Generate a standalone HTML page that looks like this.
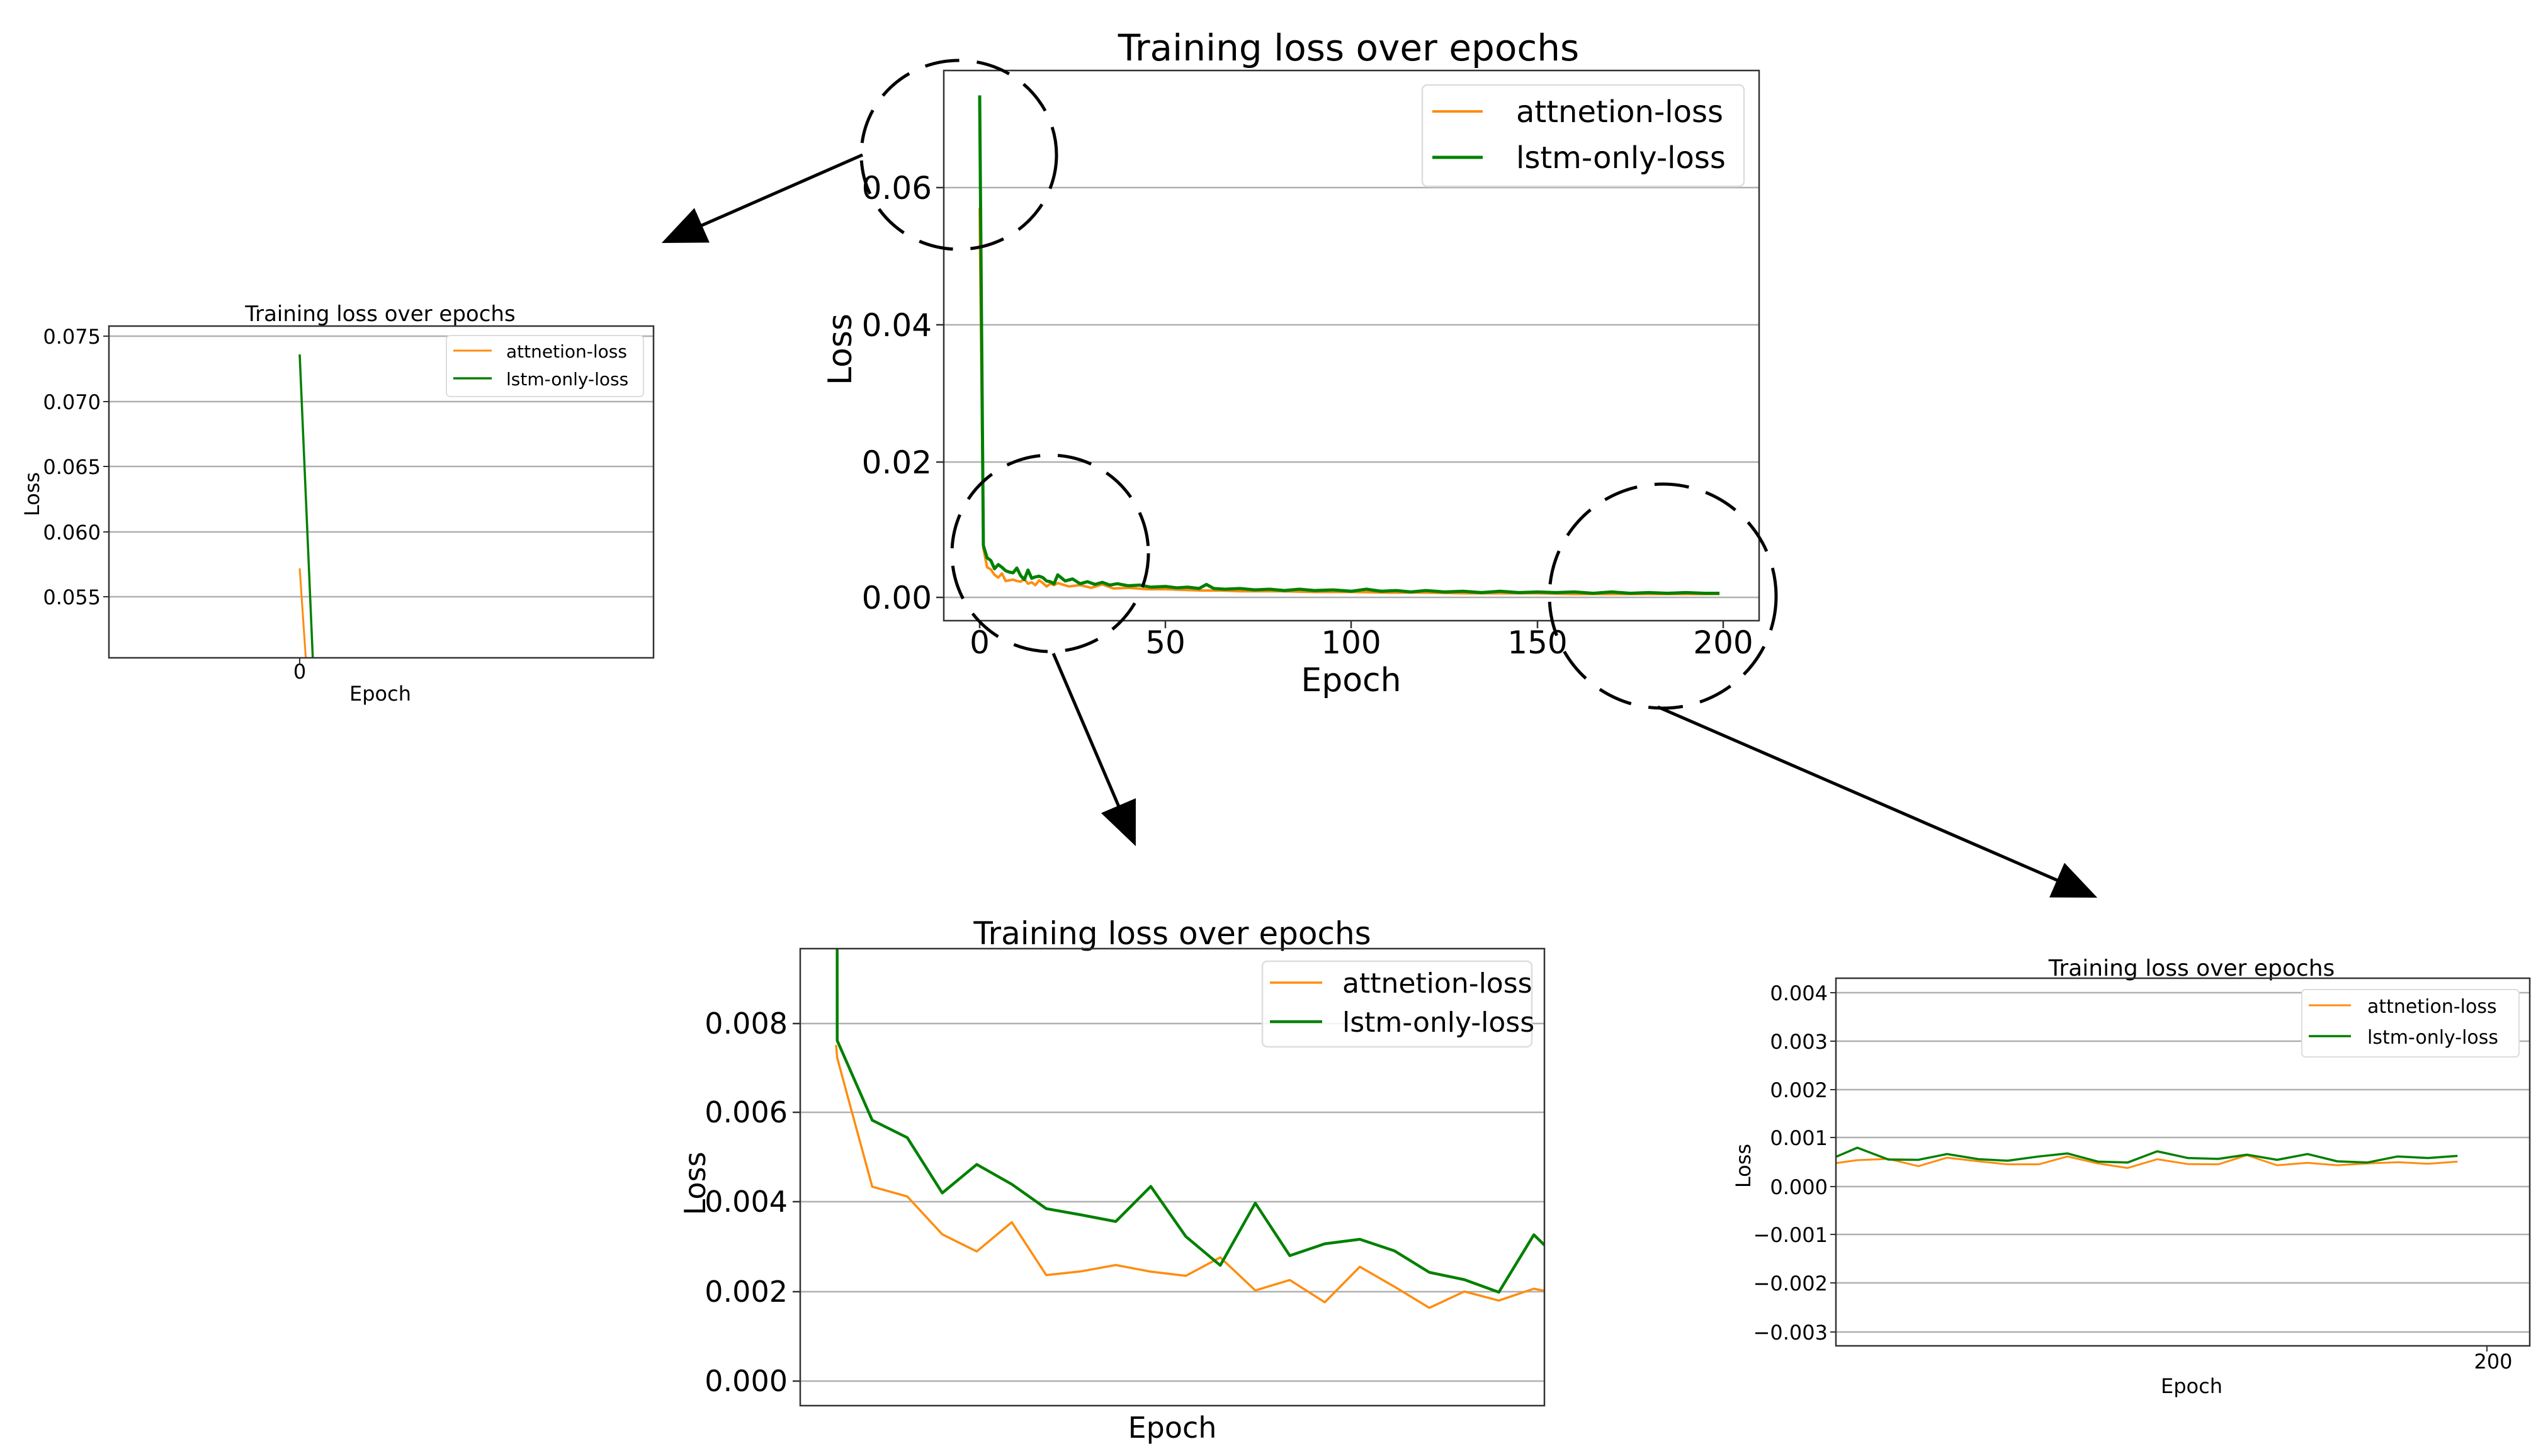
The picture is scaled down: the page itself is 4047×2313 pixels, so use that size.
<!DOCTYPE html>
<html><head><meta charset="utf-8"><style>
html,body{margin:0;padding:0;background:#fff;}
svg{display:block;font-family:"DejaVu Sans","Liberation Sans",sans-serif;}
.g{stroke:#b0b0b0;stroke-width:2.5;}
.ax{fill:none;stroke:#333;stroke-width:2.5;}
.o{fill:none;stroke:#ff8c0f;vector-effect:non-scaling-stroke;stroke-linejoin:round;}
.gr{fill:none;stroke:#008000;vector-effect:non-scaling-stroke;stroke-linejoin:round;}
.c{fill:none;stroke:#000;stroke-width:5;stroke-dasharray:55 28;}
.ar{stroke:#000;stroke-width:5;marker-end:url(#ah);}
</style></head><body>
<svg width="4047" height="2313" viewBox="0 0 4047 2313" xmlns="http://www.w3.org/2000/svg">
<defs>
<marker id="ah" markerWidth="14" markerHeight="12" refX="12" refY="6" orient="auto" markerUnits="strokeWidth"><path d="M0,0 L14,6 L0,12 z" fill="#000"/></marker>
<clipPath id="cm"><rect x="1499" y="112" width="1295" height="874"/></clipPath>
<clipPath id="cl"><rect x="173" y="518" width="865" height="527"/></clipPath>
<clipPath id="cb"><rect x="1271" y="1507" width="1182" height="726"/></clipPath>
<clipPath id="cr"><rect x="2916" y="1554" width="1102" height="584"/></clipPath>
</defs>

<!-- MAIN CHART -->
<text x="2142" y="96" font-size="58" text-anchor="middle">Training  loss over epochs</text>
<g class="g"><line x1="1499" y1="298" x2="2794" y2="298"/><line x1="1499" y1="516" x2="2794" y2="516"/><line x1="1499" y1="734" x2="2794" y2="734"/><line x1="1499" y1="949" x2="2794" y2="949"/></g>
<g clip-path="url(#cm)">
<g transform="translate(1556,949) scale(5.905,-10850)">
<polyline class="o" stroke-width="4" points="0,0.057 1,0.0072 2,0.0044 3,0.0041 4,0.0033 5,0.0029 6,0.0035 7,0.0024 8,0.0025 9,0.0026 10,0.0024 11,0.0023 12,0.0027 13,0.0020 14,0.0022 15,0.0018 16,0.0025 17,0.0021 18,0.0016 19,0.0020 20,0.0018 21,0.0021 24,0.0016 27,0.0018 30,0.0014 33,0.0019 36,0.0013 40,0.0014 45,0.0012 50,0.0012 55,0.0011 60,0.0010 65,0.0010 70,0.0009 80,0.0009 90,0.0008 100,0.0008 110,0.0007 120,0.0007 130,0.0006 140,0.0006 150,0.0006 160,0.0005 170,0.0005 180,0.0005 190,0.0005 199,0.0005"/>
<polyline class="gr" stroke-width="5" points="0,0.0735 1,0.0076 2,0.0058 3,0.0054 4,0.0042 5,0.0048 6,0.0044 7,0.0039 8,0.0037 9,0.0036 10,0.0043 11,0.0032 12,0.0026 13,0.0040 14,0.0028 15,0.0030 16,0.0031 17,0.0029 18,0.0024 19,0.0023 20,0.0020 21,0.0033 23,0.0024 25,0.0027 27,0.0020 29,0.0023 31,0.0019 33,0.0022 35,0.0018 37,0.0020 40,0.0017 43,0.0018 46,0.0015 50,0.0016 53,0.0014 56,0.0015 59,0.0013 61,0.0019 63,0.0013 66,0.0012 70,0.0013 74,0.0011 78,0.0012 82,0.0010 86,0.0012 90,0.0010 95,0.0011 100,0.0009 104,0.0012 108,0.0009 112,0.0010 116,0.0008 120,0.0010 125,0.0008 130,0.0009 135,0.0007 140,0.0009 145,0.0007 150,0.0008 155,0.0007 160,0.0008 165,0.0006 170,0.0008 175,0.0006 180,0.0007 185,0.0006 190,0.0007 195,0.0006 199,0.0006"/>
</g></g>
<rect class="ax" x="1499" y="112" width="1295" height="874"/>
<g stroke="#333" stroke-width="2.5"><line x1="1556" y1="986" x2="1556" y2="998"/><line x1="1851" y1="986" x2="1851" y2="998"/><line x1="2146" y1="986" x2="2146" y2="998"/><line x1="2442" y1="986" x2="2442" y2="998"/><line x1="2737" y1="986" x2="2737" y2="998"/>
<line x1="1487" y1="298" x2="1499" y2="298"/><line x1="1487" y1="516" x2="1499" y2="516"/><line x1="1487" y1="734" x2="1499" y2="734"/><line x1="1487" y1="949" x2="1499" y2="949"/></g>
<g font-size="50" text-anchor="middle"><text x="1556" y="1038">0</text><text x="1851" y="1038">50</text><text x="2146" y="1038">100</text><text x="2442" y="1038">150</text><text x="2737" y="1038">200</text></g>
<g font-size="50" text-anchor="end"><text x="1480" y="316">0.06</text><text x="1480" y="534">0.04</text><text x="1480" y="752">0.02</text><text x="1480" y="967">0.00</text></g>
<text x="2146" y="1098" font-size="52" text-anchor="middle">Epoch</text>
<text transform="translate(1352,555) rotate(-90)" font-size="52" text-anchor="middle">Loss</text>
<rect x="2259" y="135" width="511" height="161" rx="8" fill="#fff" fill-opacity="0.85" stroke="#ddd" stroke-width="2.5"/>
<line x1="2275" y1="177" x2="2355" y2="177" stroke="#ff8c0f" stroke-width="4"/>
<line x1="2275" y1="250" x2="2355" y2="250" stroke="#008000" stroke-width="5"/>
<text x="2408" y="194" font-size="48">attnetion-loss</text>
<text x="2408" y="267" font-size="48">lstm-only-loss</text>

<!-- LEFT SMALL CHART -->
<text x="604" y="510" font-size="34" text-anchor="middle">Training  loss over epochs</text>
<g class="g" stroke-width="2"><line x1="173" y1="534" x2="1038" y2="534"/><line x1="173" y1="638" x2="1038" y2="638"/><line x1="173" y1="741" x2="1038" y2="741"/><line x1="173" y1="845" x2="1038" y2="845"/><line x1="173" y1="948" x2="1038" y2="948"/></g>
<g clip-path="url(#cl)">
<line x1="476" y1="903" x2="486" y2="1050" stroke="#ff8c0f" stroke-width="3"/>
<line x1="476" y1="563" x2="497" y2="1050" stroke="#008000" stroke-width="3.5"/>
</g>
<rect class="ax" x="173" y="518" width="865" height="527" stroke-width="2"/>
<g stroke="#333" stroke-width="2"><line x1="476" y1="1045" x2="476" y2="1054"/><line x1="164" y1="534" x2="173" y2="534"/><line x1="164" y1="638" x2="173" y2="638"/><line x1="164" y1="741" x2="173" y2="741"/><line x1="164" y1="845" x2="173" y2="845"/><line x1="164" y1="948" x2="173" y2="948"/></g>
<g font-size="32" text-anchor="end"><text x="160" y="546">0.075</text><text x="160" y="650">0.070</text><text x="160" y="753">0.065</text><text x="160" y="857">0.060</text><text x="160" y="960">0.055</text></g>
<text x="476" y="1078" font-size="32" text-anchor="middle">0</text>
<text x="604" y="1113" font-size="32" text-anchor="middle">Epoch</text>
<text transform="translate(62,785) rotate(-90)" font-size="32" text-anchor="middle">Loss</text>
<rect x="709" y="533" width="313" height="97" rx="6" fill="#fff" stroke="#ddd" stroke-width="2"/>
<line x1="720" y1="557" x2="781" y2="557" stroke="#ff8c0f" stroke-width="3"/>
<line x1="720" y1="601" x2="781" y2="601" stroke="#008000" stroke-width="3.5"/>
<text x="804" y="568" font-size="28">attnetion-loss</text>
<text x="804" y="612" font-size="28">lstm-only-loss</text>

<!-- BOTTOM MIDDLE CHART -->
<text x="1862" y="1500" font-size="50" text-anchor="middle">Training  loss over epochs</text>
<g class="g"><line x1="1271" y1="1626" x2="2453" y2="1626"/><line x1="1271" y1="1767" x2="2453" y2="1767"/><line x1="1271" y1="1909" x2="2453" y2="1909"/><line x1="1271" y1="2052" x2="2453" y2="2052"/><line x1="1271" y1="2194" x2="2453" y2="2194"/></g>
<g clip-path="url(#cb)"><g transform="translate(1100,1450) scale(0.8974,0.553)">
<polyline class="o" stroke-width="3.5" points="254,380 256,417 318,787 380,815 442,924 503,973 565,889 626,1041 688,1030 749,1012 811,1031 873,1043 934,990 996,1085 1057,1055 1119,1119 1181,1017 1242,1074 1304,1135 1366,1088 1427,1114 1489,1080 1550,1100"/>
<polyline class="gr" stroke-width="4.5" points="250,-30000 256,367 318,596 380,646 442,805 503,723 565,780 626,850 688,868 749,887 811,786 873,930 934,1013 996,834 1057,985 1119,951 1181,938 1242,971 1304,1033 1366,1054 1427,1090 1489,925 1530,990"/>
</g></g>
<rect class="ax" x="1271" y="1507" width="1182" height="726"/>
<g stroke="#333" stroke-width="2.5"><line x1="1259" y1="1626" x2="1271" y2="1626"/><line x1="1259" y1="1767" x2="1271" y2="1767"/><line x1="1259" y1="1909" x2="1271" y2="1909"/><line x1="1259" y1="2052" x2="1271" y2="2052"/><line x1="1259" y1="2194" x2="1271" y2="2194"/></g>
<g font-size="46" text-anchor="end"><text x="1251" y="1642">0.008</text><text x="1251" y="1783">0.006</text><text x="1251" y="1925">0.004</text><text x="1251" y="2068">0.002</text><text x="1251" y="2210">0.000</text></g>
<text x="1862" y="2284" font-size="46" text-anchor="middle">Epoch</text>
<text transform="translate(1120,1880) rotate(-90)" font-size="46" text-anchor="middle">Loss</text>
<rect x="2005" y="1527" width="428" height="136" rx="8" fill="#fff" fill-opacity="0.85" stroke="#ddd" stroke-width="2.5"/>
<line x1="2017" y1="1561" x2="2100" y2="1561" stroke="#ff8c0f" stroke-width="3.5"/>
<line x1="2017" y1="1623" x2="2100" y2="1623" stroke="#008000" stroke-width="4.5"/>
<text x="2132" y="1577" font-size="44">attnetion-loss</text>
<text x="2132" y="1639" font-size="44">lstm-only-loss</text>

<!-- RIGHT CHART -->
<text x="3481" y="1550" font-size="36" text-anchor="middle">Training  loss over epochs</text>
<g class="g" stroke-width="2"><line x1="2916" y1="1577" x2="4018" y2="1577"/><line x1="2916" y1="1654" x2="4018" y2="1654"/><line x1="2916" y1="1731" x2="4018" y2="1731"/><line x1="2916" y1="1807" x2="4018" y2="1807"/><line x1="2916" y1="1885" x2="4018" y2="1885"/><line x1="2916" y1="1961" x2="4018" y2="1961"/><line x1="2916" y1="2038" x2="4018" y2="2038"/><line x1="2916" y1="2116" x2="4018" y2="2116"/></g>
<g clip-path="url(#cr)"><g transform="translate(2900,1500) scale(0.735,0.481)">
<polyline class="o" stroke-width="3" points="22,723 68,713 135,709 200,733 262,705 330,717 393,727 460,727 522,701 588,724 652,739 716,710 782,726 848,727 910,697 975,730 1041,722 1105,730 1170,724 1235,720 1301,725 1365,718"/>
<polyline class="gr" stroke-width="3.5" points="22,702 68,672 135,711 200,712 262,693 330,710 393,715 460,701 522,691 588,718 652,721 716,684 782,706 848,709 910,695 975,712 1041,693 1105,717 1170,721 1235,701 1301,706 1365,699"/>
</g></g>
<rect class="ax" x="2916" y="1554" width="1102" height="584" stroke-width="2"/>
<g stroke="#333" stroke-width="2"><line x1="3950" y1="2138" x2="3950" y2="2147"/>
<line x1="2907" y1="1577" x2="2916" y2="1577"/><line x1="2907" y1="1654" x2="2916" y2="1654"/><line x1="2907" y1="1731" x2="2916" y2="1731"/><line x1="2907" y1="1807" x2="2916" y2="1807"/><line x1="2907" y1="1885" x2="2916" y2="1885"/><line x1="2907" y1="1961" x2="2916" y2="1961"/><line x1="2907" y1="2038" x2="2916" y2="2038"/><line x1="2907" y1="2116" x2="2916" y2="2116"/></g>
<g font-size="32" text-anchor="end"><text x="2903" y="1589">0.004</text><text x="2903" y="1666">0.003</text><text x="2903" y="1743">0.002</text><text x="2903" y="1819">0.001</text><text x="2903" y="1897">0.000</text><text x="2903" y="1973">−0.001</text><text x="2903" y="2050">−0.002</text><text x="2903" y="2128">−0.003</text></g>
<text x="3960" y="2174" font-size="32" text-anchor="middle">200</text>
<text x="3481" y="2213" font-size="32" text-anchor="middle">Epoch</text>
<text transform="translate(2780,1852) rotate(-90)" font-size="32" text-anchor="middle">Loss</text>
<rect x="3656" y="1572" width="345" height="107" rx="6" fill="#fff" stroke="#ddd" stroke-width="2"/>
<line x1="3667" y1="1597" x2="3734" y2="1597" stroke="#ff8c0f" stroke-width="3"/>
<line x1="3667" y1="1646" x2="3734" y2="1646" stroke="#008000" stroke-width="3.5"/>
<text x="3760" y="1609" font-size="30">attnetion-loss</text>
<text x="3760" y="1658" font-size="30">lstm-only-loss</text>

<!-- DASHED CIRCLES -->
<ellipse class="c" cx="1523" cy="246" rx="155" ry="150"/>
<ellipse class="c" cx="1668" cy="879" rx="156" ry="156"/>
<ellipse class="c" cx="2641" cy="947" rx="180" ry="178"/>

<!-- ARROWS -->
<line class="ar" x1="1370" y1="246" x2="1060" y2="382"/>
<line class="ar" x1="1673" y1="1038" x2="1800" y2="1335"/>
<line class="ar" x1="2633" y1="1123" x2="3322" y2="1422"/>
</svg>
</body></html>
